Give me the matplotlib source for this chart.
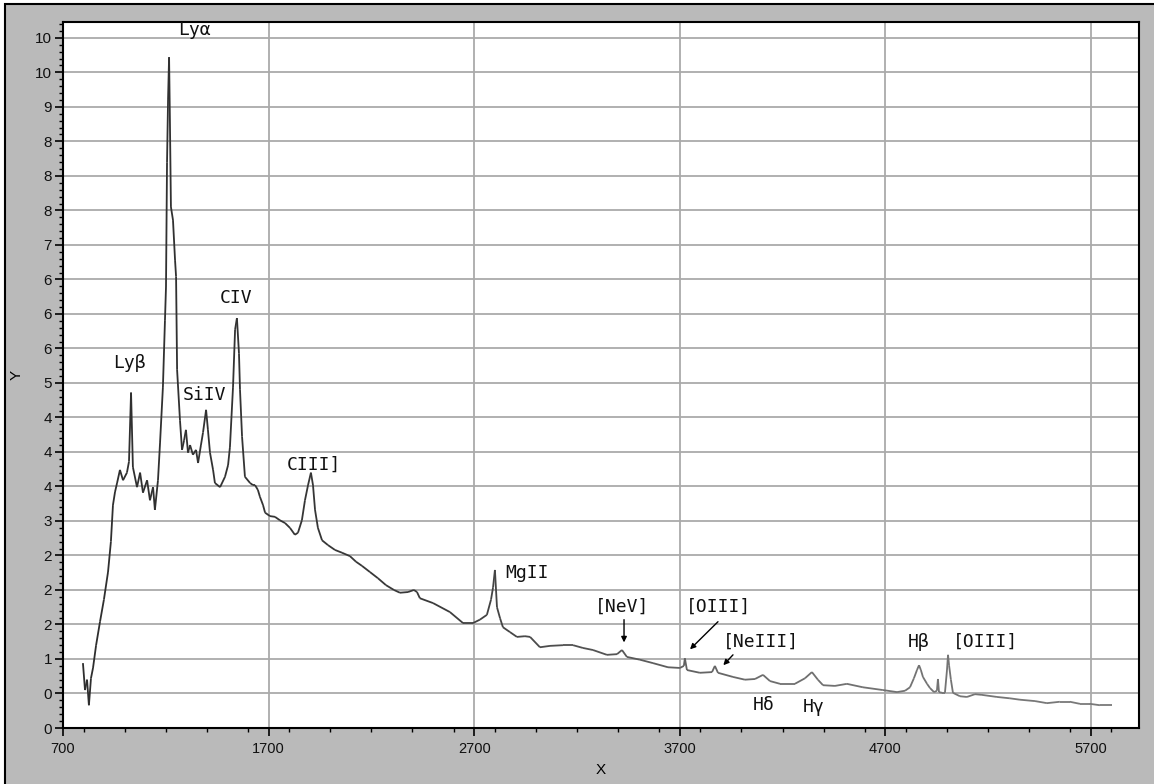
import matplotlib
matplotlib.use("Agg")
import matplotlib.pyplot as plt
import numpy as np
from matplotlib.patches import Rectangle
from matplotlib.collections import LineCollection
from matplotlib.colors import LinearSegmentedColormap, Normalize
from matplotlib.ticker import MultipleLocator

# ---- data ----
wavelength = [797, 807, 817, 826, 836, 846, 861, 880, 899, 919, 933, 943, 953, 963, 977,
              992, 1011, 1021, 1031, 1040, 1060, 1075, 1089, 1109, 1123, 1138, 1147, 1162,
              1172, 1186, 1196, 1201, 1206, 1211, 1216, 1220, 1225, 1235, 1245, 1250, 1255,
              1269, 1279, 1289, 1298, 1308, 1318, 1332, 1347, 1357, 1371, 1381, 1396, 1405,
              1415, 1430, 1439, 1464, 1488, 1503, 1512, 1527, 1537, 1546, 1556, 1561, 1571,
              1585, 1610, 1624, 1634, 1648, 1658, 1673, 1683, 1707, 1731, 1755, 1780, 1804,
              1828, 1843, 1862, 1877, 1892, 1906, 1916, 1926, 1940, 1960, 1989, 2023, 2057,
              2096, 2125, 2154, 2193, 2232, 2271, 2310, 2339, 2378, 2407, 2422, 2436, 2500,
              2582, 2646, 2694, 2728, 2762, 2782, 2792, 2801, 2811, 2826, 2840, 2874, 2908,
              2947, 2972, 3020, 3069, 3132, 3181, 3229, 3278, 3346, 3395, 3419, 3443, 3506,
              3570, 3643, 3701, 3720, 3725, 3735, 3798, 3857, 3871, 3886, 3959, 4017, 4066,
              4105, 4139, 4188, 4260, 4309, 4343, 4372, 4397, 4455, 4513, 4591, 4688, 4757,
              4796, 4820, 4839, 4854, 4864, 4873, 4883, 4903, 4917, 4937, 4951, 4956, 4961,
              4976, 4990, 5000, 5005, 5010, 5019, 5029, 5063, 5097, 5136, 5170, 5243, 5306,
              5355, 5428, 5486, 5549, 5598, 5647, 5695, 5744, 5802]
flux = [0.94, 0.55, 0.70, 0.33, 0.72, 0.87, 1.20, 1.54, 1.86, 2.26, 2.70, 3.23, 3.42, 3.55, 3.74,
        3.59, 3.70, 3.86, 4.86, 3.78, 3.49, 3.70, 3.41, 3.59, 3.30, 3.49, 3.16, 3.59,
        4.13, 4.94, 5.91, 6.39, 8.19, 9.10, 9.72, 8.81, 7.55, 7.36, 6.78, 6.54, 5.19,
        4.46, 4.03, 4.17, 4.32, 3.99, 4.10, 3.96, 4.03, 3.84, 4.10, 4.28, 4.61, 4.32,
        3.99, 3.74, 3.55, 3.49, 3.64, 3.81, 4.07, 4.94, 5.77, 5.94, 5.43, 4.90, 4.22,
        3.64, 3.55, 3.52, 3.52, 3.45, 3.35, 3.23, 3.12, 3.07, 3.06, 3.01, 2.97, 2.90,
        2.80, 2.83, 3.01, 3.30, 3.52, 3.70, 3.52, 3.16, 2.90, 2.72, 2.65, 2.58, 2.54,
        2.49, 2.41, 2.35, 2.26, 2.17, 2.07, 2.00, 1.96, 1.97, 2.00, 1.97, 1.88, 1.81,
        1.68, 1.52, 1.52, 1.57, 1.64, 1.86, 2.04, 2.29, 1.75, 1.59, 1.46, 1.39, 1.32,
        1.33, 1.32, 1.17, 1.19, 1.20, 1.20, 1.16, 1.13, 1.06, 1.07, 1.13, 1.03, 0.99,
        0.94, 0.88, 0.87, 0.90, 1.01, 0.84, 0.80, 0.81, 0.90, 0.80, 0.74, 0.70, 0.71,
        0.77, 0.68, 0.64, 0.64, 0.72, 0.81, 0.70, 0.62, 0.61, 0.64, 0.59, 0.55, 0.52,
        0.54, 0.59, 0.72, 0.84, 0.91, 0.84, 0.74, 0.64, 0.58, 0.52, 0.54, 0.71, 0.52,
        0.51, 0.51, 0.84, 1.06, 0.91, 0.70, 0.51, 0.46, 0.45, 0.49, 0.48, 0.45, 0.43,
        0.41, 0.39, 0.36, 0.38, 0.38, 0.35, 0.35, 0.33, 0.33]

line_labels = ["Ly\u03b1", "Ly\u03b2", "SiIV", "CIV", "CIII]", "MgII", "[NeV]", "[OIII]",
               "[NeIII]", "H\u03b4", "H\u03b3", "H\u03b2", "[OIII]"]
label_x = [1259, 943, 1284, 1464, 1790, 2850, 3288, 3730, 3910, 4056, 4299, 4810, 5029]
label_y = [10.12, 5.29, 4.83, 6.23, 3.81, 2.25, 1.75, 1.75, 1.25, 0.33, 0.30, 1.25, 1.25]

# arrows: (text end) -> (line)
arrow_from = [(3429, 1.57), (3886, 1.54), (3959, 1.06)]
arrow_to = [(3429, 1.24), (3750, 1.14), (3912, 0.91)]

x_ticks = [700, 1700, 2700, 3700, 4700, 5700]
y_ticks = [0, 0.5, 1, 1.5, 2, 2.5, 3, 3.5, 4, 4.5, 5, 5.5, 6, 6.5, 7, 7.5, 8, 8.5, 9, 9.5, 10]
y_tick_labels = ['0', '0', '1', '2', '2', '2', '3', '4', '4', '4', '5', '6', '6', '6',
                 '7', '8', '8', '8', '9', '10', '10']

# ---- figure ----
W, H = 1154, 784
fig = plt.figure(figsize=(W / 100, H / 100), dpi=100, facecolor='white')

panel = Rectangle((5 / W, -0.05), 1.2, (H - 4) / H + 0.05, transform=fig.transFigure,
                  facecolor='#bababa', edgecolor='black', linewidth=1.5, zorder=-10)
fig.patches.append(panel)

ax = fig.add_axes([63 / W, 56 / H, 1076 / W, 706 / H])
ax.set_zorder(1)
ax.set_facecolor('white')
ax.set_xlim(700, 5934)
ax.set_ylim(0, 10.23)

# spectrum: dark on the blue side, lighter grey toward the red side
wl = np.asarray(wavelength, dtype=float)
fl = np.asarray(flux, dtype=float)
pts = np.column_stack([wl, fl]).reshape(-1, 1, 2)
segs = np.concatenate([pts[:-1], pts[1:]], axis=1)
cmap = LinearSegmentedColormap.from_list('spec', ['#2e2e2e', '#3a3a3a', '#6e6e6e', '#7a7a7a'])
lc = LineCollection(segs, cmap=cmap, norm=Normalize(800, 5800), linewidths=1.3, zorder=3)
lc.set_array(0.5 * (wl[:-1] + wl[1:]))
ax.add_collection(lc)

ax.set_xticks(x_ticks)
ax.set_xticklabels([str(v) for v in x_ticks],
                   family=['Liberation Sans Narrow', 'Liberation Sans', 'DejaVu Sans'],
                   fontsize=10.5)
ax.xaxis.set_minor_locator(MultipleLocator(200))
ax.set_yticks(y_ticks)
ax.set_yticklabels(y_tick_labels, family=['Liberation Sans', 'DejaVu Sans'], fontsize=11)
ax.yaxis.set_minor_locator(MultipleLocator(0.1))

ax.tick_params(axis='both', which='major', direction='out', length=6, width=1.2,
               color='black', labelcolor='#111111')
ax.tick_params(axis='x', which='major', pad=4)
ax.tick_params(axis='y', which='major', pad=2)
ax.tick_params(axis='both', which='minor', direction='out', length=3, width=1.0,
               color='black')

ax.grid(True, which='major', color='#aaaaaa', lw=1.3, zorder=1)
ax.set_axisbelow(True)
for s in ax.spines.values():
    s.set_color('black')
    s.set_linewidth(1.5)

ax.set_xlabel('X', family=['Liberation Sans Narrow', 'Liberation Sans', 'DejaVu Sans'],
              fontsize=11, labelpad=5)
ax.set_ylabel('Y', family=['Liberation Sans', 'DejaVu Sans'], fontsize=11, labelpad=8)

for t, x, y in zip(line_labels, label_x, label_y):
    ax.text(x, y, t, ha='left', va='center', fontsize=13, family='DejaVu Sans Mono',
            color='#111111', zorder=4)

for (x0, y0), (x1, y1) in zip(arrow_from, arrow_to):
    ax.annotate('', xy=(x1, y1), xytext=(x0, y0),
                arrowprops=dict(arrowstyle='-|>', color='black', lw=1.0,
                                mutation_scale=8, shrinkA=0, shrinkB=0), zorder=4)

fig.savefig('out.png', dpi=100, facecolor='white')
